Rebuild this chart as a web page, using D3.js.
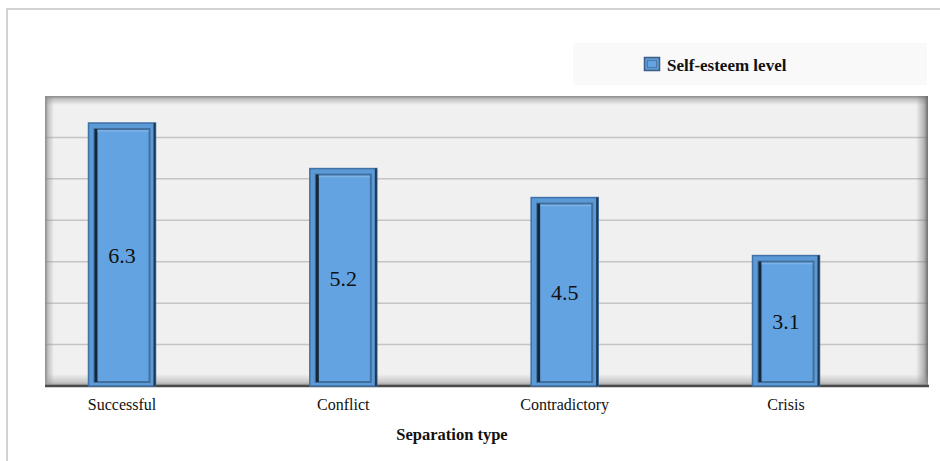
<!DOCTYPE html>
<html>
<head>
<meta charset="utf-8">
<script src="https://cdn.jsdelivr.net/npm/d3@7"></script>
<style>
  html, body { margin: 0; padding: 0; background: #fff; }
  svg { display: block; }
</style>
</head>
<body>
<svg id="chart" width="940" height="461"></svg>
<script>
// Self-esteem level by separation type
const categories = ["Successful", "Conflict", "Contradictory", "Crisis"];
const values = [6.3, 5.2, 4.5, 3.1];
const yTicks = [0, 1, 2, 3, 4, 5, 6, 7];
const seriesName = "Self-esteem level";
const xTitle = "Separation type";

const W = 940, H = 461;
const plot = { left: 45, right: 928, top: 96, bottom: 386 };
const barWidth = 67;
const bevel = 2; // raised rim above the value line
const serif = "'Liberation Serif', 'Times New Roman', serif";

const svg = d3.select("#chart");
const defs = svg.append("defs");

// Outer chart frame (top and left edges visible)
svg.append("path")
  .attr("d", `M7,${H} L7,9 L${W},9`)
  .attr("fill", "none").attr("stroke", "#d2d2d2").attr("stroke-width", 2);

// Scales
const x = d3.scalePoint().domain(categories).range([122, 786]);
const y = d3.scaleLinear().domain([0, 7]).range([plot.bottom, plot.top]);

// Edge shading gradients for the recessed plot area
function edgeGrad(id, x1, y1, x2, y2, dark) {
  const g = defs.append("linearGradient").attr("id", id)
    .attr("x1", x1).attr("y1", y1).attr("x2", x2).attr("y2", y2);
  g.append("stop").attr("offset", "0%").attr("stop-color", dark).attr("stop-opacity", 1);
  g.append("stop").attr("offset", "35%").attr("stop-color", dark).attr("stop-opacity", 0.45);
  g.append("stop").attr("offset", "100%").attr("stop-color", dark).attr("stop-opacity", 0);
}
edgeGrad("gTop", 0, 0, 0, 1, "#8a8a8a");
edgeGrad("gLeft", 0, 0, 1, 0, "#8a8a8a");
edgeGrad("gRight", 1, 0, 0, 0, "#6e6e6e");
edgeGrad("gBottom", 0, 1, 0, 0, "#9a9a9a");

const pw = plot.right - plot.left, ph = plot.bottom - plot.top;
svg.append("rect")
  .attr("x", plot.left).attr("y", plot.top).attr("width", pw).attr("height", ph)
  .attr("fill", "#f0f0f0");

// Gridlines
svg.append("g").selectAll("line")
  .data(yTicks.filter(t => t > 0 && t < 7))
  .join("line")
  .attr("x1", plot.left).attr("x2", plot.right)
  .attr("y1", d => y(d)).attr("y2", d => y(d))
  .attr("stroke", "#c4c4c4").attr("stroke-width", 1.5);

// Recessed edges
svg.append("rect").attr("x", plot.left).attr("y", plot.top).attr("width", pw).attr("height", 9).attr("fill", "url(#gTop)");
svg.append("rect").attr("x", plot.left).attr("y", plot.top).attr("width", 9).attr("height", ph).attr("fill", "url(#gLeft)");
svg.append("rect").attr("x", plot.right - 12).attr("y", plot.top).attr("width", 12).attr("height", ph).attr("fill", "url(#gRight)");
svg.append("rect").attr("x", plot.left).attr("y", plot.bottom - 12).attr("width", pw).attr("height", 12).attr("fill", "url(#gBottom)");

// Baseline axis
svg.append("line")
  .attr("x1", plot.left).attr("x2", plot.right + 1)
  .attr("y1", plot.bottom).attr("y2", plot.bottom)
  .attr("stroke", "#4a4a4a").attr("stroke-width", 2.5);

// Bevelled bars
const inset = 6;
const bars = svg.append("g").selectAll("g")
  .data(categories.map((c, i) => ({ c, v: values[i] })))
  .join("g")
  .attr("transform", d => `translate(${x(d.c) - barWidth / 2},0)`);

bars.append("rect")
  .attr("x", 0).attr("y", d => y(d.v) - bevel)
  .attr("width", barWidth).attr("height", d => plot.bottom - y(d.v) + bevel)
  .attr("fill", "#5b9ad6").attr("stroke", "#3f72a6").attr("stroke-width", 1.5);

// inner panel
bars.append("rect")
  .attr("x", inset).attr("y", d => y(d.v) - bevel + inset)
  .attr("width", barWidth - 2 * inset).attr("height", d => plot.bottom - y(d.v) + bevel - inset - 4)
  .attr("fill", "#64a3e2").attr("stroke", "#41709e").attr("stroke-width", 2);

// dark left shadow of inner panel
bars.append("line")
  .attr("x1", inset + 1.5).attr("x2", inset + 1.5)
  .attr("y1", d => y(d.v) - bevel + inset).attr("y2", plot.bottom - 4)
  .attr("stroke", "#16273a").attr("stroke-width", 3);
// dark right rim
bars.append("line")
  .attr("x1", barWidth - 1).attr("x2", barWidth - 1)
  .attr("y1", d => y(d.v) - bevel).attr("y2", plot.bottom)
  .attr("stroke", "#1e3650").attr("stroke-width", 2);
// light top highlight of inner panel
bars.append("line")
  .attr("x1", inset + 3).attr("x2", barWidth - inset - 1)
  .attr("y1", d => y(d.v) - bevel + inset + 2).attr("y2", d => y(d.v) - bevel + inset + 2)
  .attr("stroke", "#7fb2e4").attr("stroke-width", 1.5);

// Value labels
bars.append("text")
  .attr("x", barWidth / 2)
  .attr("y", d => (y(d.v) + plot.bottom) / 2)
  .attr("dy", "0.35em")
  .attr("text-anchor", "middle")
  .attr("font-family", serif).attr("font-size", 22).attr("fill", "#111")
  .text(d => d.v.toFixed(1));

// Category labels
svg.append("g").selectAll("text")
  .data(categories)
  .join("text")
  .attr("x", d => x(d)).attr("y", 410)
  .attr("text-anchor", "middle")
  .attr("font-family", serif).attr("font-size", 16).attr("fill", "#111")
  .text(d => d);

// Axis title
svg.append("text")
  .attr("x", 452).attr("y", 440)
  .attr("text-anchor", "middle")
  .attr("font-family", serif).attr("font-size", 16.5).attr("font-weight", "bold").attr("fill", "#111")
  .text(xTitle);

// Legend
const lg = svg.append("g");
lg.append("rect").attr("x", 573).attr("y", 43).attr("width", 354).attr("height", 42).attr("fill", "#f9f9f9");
lg.append("rect").attr("x", 644.5).attr("y", 57.5).attr("width", 15).attr("height", 13)
  .attr("fill", "#5b9ad6").attr("stroke", "#3d5f83").attr("stroke-width", 1.5);
lg.append("rect").attr("x", 647.5).attr("y", 60.5).attr("width", 9).attr("height", 7)
  .attr("fill", "#64a3e2").attr("stroke", "#4d7aa6").attr("stroke-width", 1);
lg.append("text").attr("x", 667).attr("y", 70.5)
  .attr("font-family", serif).attr("font-size", 17).attr("font-weight", "bold").attr("fill", "#111")
  .text(seriesName);
</script>
</body>
</html>
